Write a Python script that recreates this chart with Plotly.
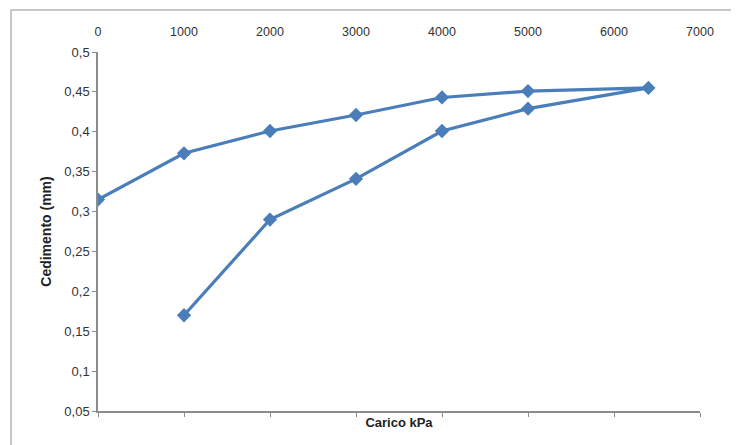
import plotly.graph_objects as go

# Data
carico = [1000, 2000, 3000, 4000, 5000, 6400, 5000, 4000, 3000, 2000, 1000, 0]
cedimento = [0.17, 0.29, 0.341, 0.401, 0.429, 0.455, 0.451, 0.443, 0.421, 0.401, 0.373, 0.315]

x_ticks = [0, 1000, 2000, 3000, 4000, 5000, 6000, 7000]
y_ticks = [0.05, 0.1, 0.15, 0.2, 0.25, 0.3, 0.35, 0.4, 0.45, 0.5]
y_ticktext = ["0,05", "0,1", "0,15", "0,2", "0,25", "0,3", "0,35", "0,4", "0,45", "0,5"]

line_color = "#4a7ebb"
axis_color = "#8c8c8c"
font_family = "Liberation Sans, Arial, sans-serif"

fig = go.Figure()
fig.add_trace(go.Scatter(
    x=carico, y=cedimento, mode="lines+markers",
    line=dict(color=line_color, width=3.2),
    marker=dict(symbol="diamond", size=11, color=line_color),
    showlegend=False, xaxis="x", yaxis="y",
))
# invisible trace to activate bottom axis
fig.add_trace(go.Scatter(x=[0], y=[None], xaxis="x2", yaxis="y",
                         showlegend=False, hoverinfo="skip"))

fig.update_layout(
    width=731, height=437,
    margin=dict(l=90, r=39, t=44, b=34, autoexpand=False),
    paper_bgcolor="white", plot_bgcolor="white",
    font=dict(family=font_family, size=12, color="#333"),
    xaxis=dict(
        range=[0, 7000], side="top", tickvals=x_ticks,
        showline=False, showgrid=False, zeroline=False,
        ticks="", ticklabelstandoff=13,
        tickfont=dict(size=12.5, color="#333"),
    ),
    xaxis2=dict(
        range=[0, 7000], overlaying="x", side="bottom", anchor="y",
        tickvals=x_ticks, showticklabels=False,
        showline=True, linecolor=axis_color, linewidth=2,
        ticks="outside", ticklen=4, tickcolor=axis_color,
        showgrid=False, zeroline=False,
        title=dict(text="<b>Carico kPa</b>", standoff=2,
                   font=dict(size=13, color="#222")),
    ),
    yaxis=dict(
        range=[0.05, 0.5], tickvals=y_ticks, ticktext=y_ticktext,
        showline=True, linecolor=axis_color, linewidth=1.5,
        ticks="outside", ticklen=4, tickcolor=axis_color,
        showgrid=False, zeroline=False,
        tickfont=dict(size=13, color="#333"),
        title=dict(text="<b>Cedimento (mm)</b>", standoff=9,
                   font=dict(size=14, color="#222")),
    ),
    shapes=[dict(type="rect", xref="paper", yref="paper",
                 x0=-0.1445, x1=1.0548, y0=-0.0975, y1=1.117,
                 line=dict(color="#b5b5b5", width=1.5))],
)

fig.write_html("out.html")
